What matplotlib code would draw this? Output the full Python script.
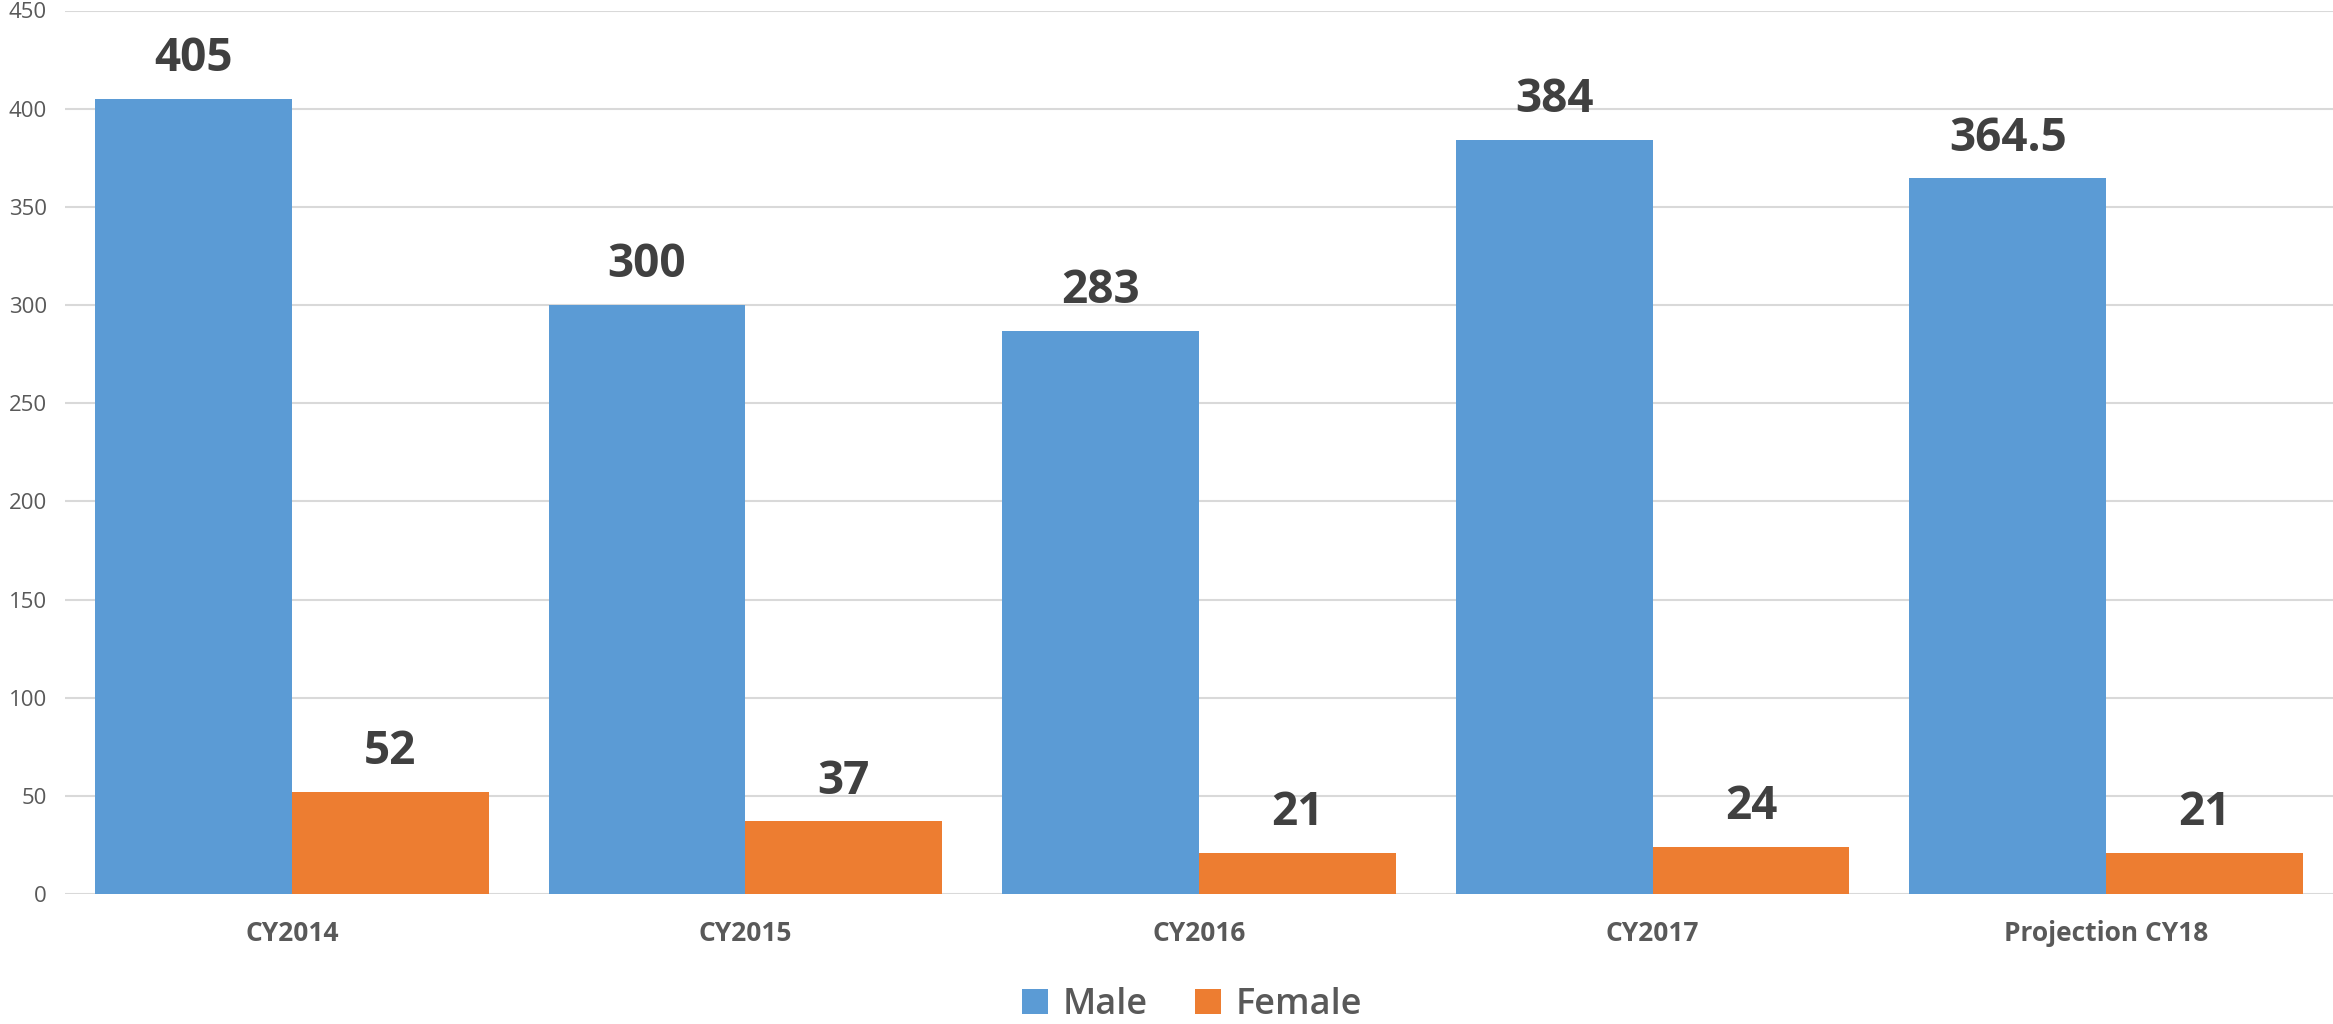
import matplotlib
matplotlib.use("Agg")
import matplotlib.pyplot as plt
import numpy as np

categories = ["CY2014", "CY2015", "CY2016", "CY2017", "Projection CY18"]
male = [405, 300, 287, 384, 364.5]
female = [52, 37, 21, 24, 21]
male_labels = ["405", "300", "283", "384", "364.5"]
female_labels = ["52", "37", "21", "24", "21"]
yticks = [0, 50, 100, 150, 200, 250, 300, 350, 400, 450]

plt.rcParams['font.family'] = ['Open Sans', 'DejaVu Sans']

fig = plt.figure(figsize=(23.33, 10.24), dpi=100)
ax = fig.add_axes([65/2333, 1-894/1024, 1-65/2333, (894-10.5)/1024])

x = np.arange(len(categories))
w = 0.434
blue = "#5B9BD5"
orange = "#ED7D31"
b1 = ax.bar(x - w/2, male, w, color=blue, label="Male", zorder=3)
b2 = ax.bar(x + w/2, female, w, color=orange, label="Female", zorder=3)

for rect, lab in zip(b1, male_labels):
    ax.annotate(lab, (rect.get_x()+rect.get_width()/2, rect.get_height()),
                xytext=(0, 12), textcoords="offset points", ha="center", va="bottom",
                fontsize=33, fontweight="bold", color="#404040")
for rect, lab in zip(b2, female_labels):
    ax.annotate(lab, (rect.get_x()+rect.get_width()/2, rect.get_height()),
                xytext=(0, 12), textcoords="offset points", ha="center", va="bottom",
                fontsize=33, fontweight="bold", color="#404040")

ax.set_xlim(-0.5, 4.5)
ax.set_ylim(0, 450)
ax.set_yticks(yticks)
ax.set_yticklabels([str(v) for v in yticks], fontsize=16, color="#595959")
ax.set_xticks(x)
ax.set_xticklabels(categories, fontsize=19, fontweight="bold", color="#595959")
ax.tick_params(axis="both", length=0)
ax.tick_params(axis="x", pad=19)
ax.tick_params(axis="y", pad=13)
ax.grid(axis="y", color="#D9D9D9", linewidth=1.5, zorder=0)
for s in ax.spines.values():
    s.set_visible(False)

leg = fig.legend(handles=[b1, b2], labels=["Male", "Female"], loc="center",
                 bbox_to_anchor=(0.5 + 65/2333/2 - 0.003, 1-1005/1024), ncol=2, frameon=False,
                 handlelength=0.72, handleheight=0.72, columnspacing=1.3,
                 handletextpad=0.4, prop={'size': 26, 'weight': 'semibold'})
for t in leg.get_texts():
    t.set_color("#595959")

fig.savefig("out.png", dpi=100)
